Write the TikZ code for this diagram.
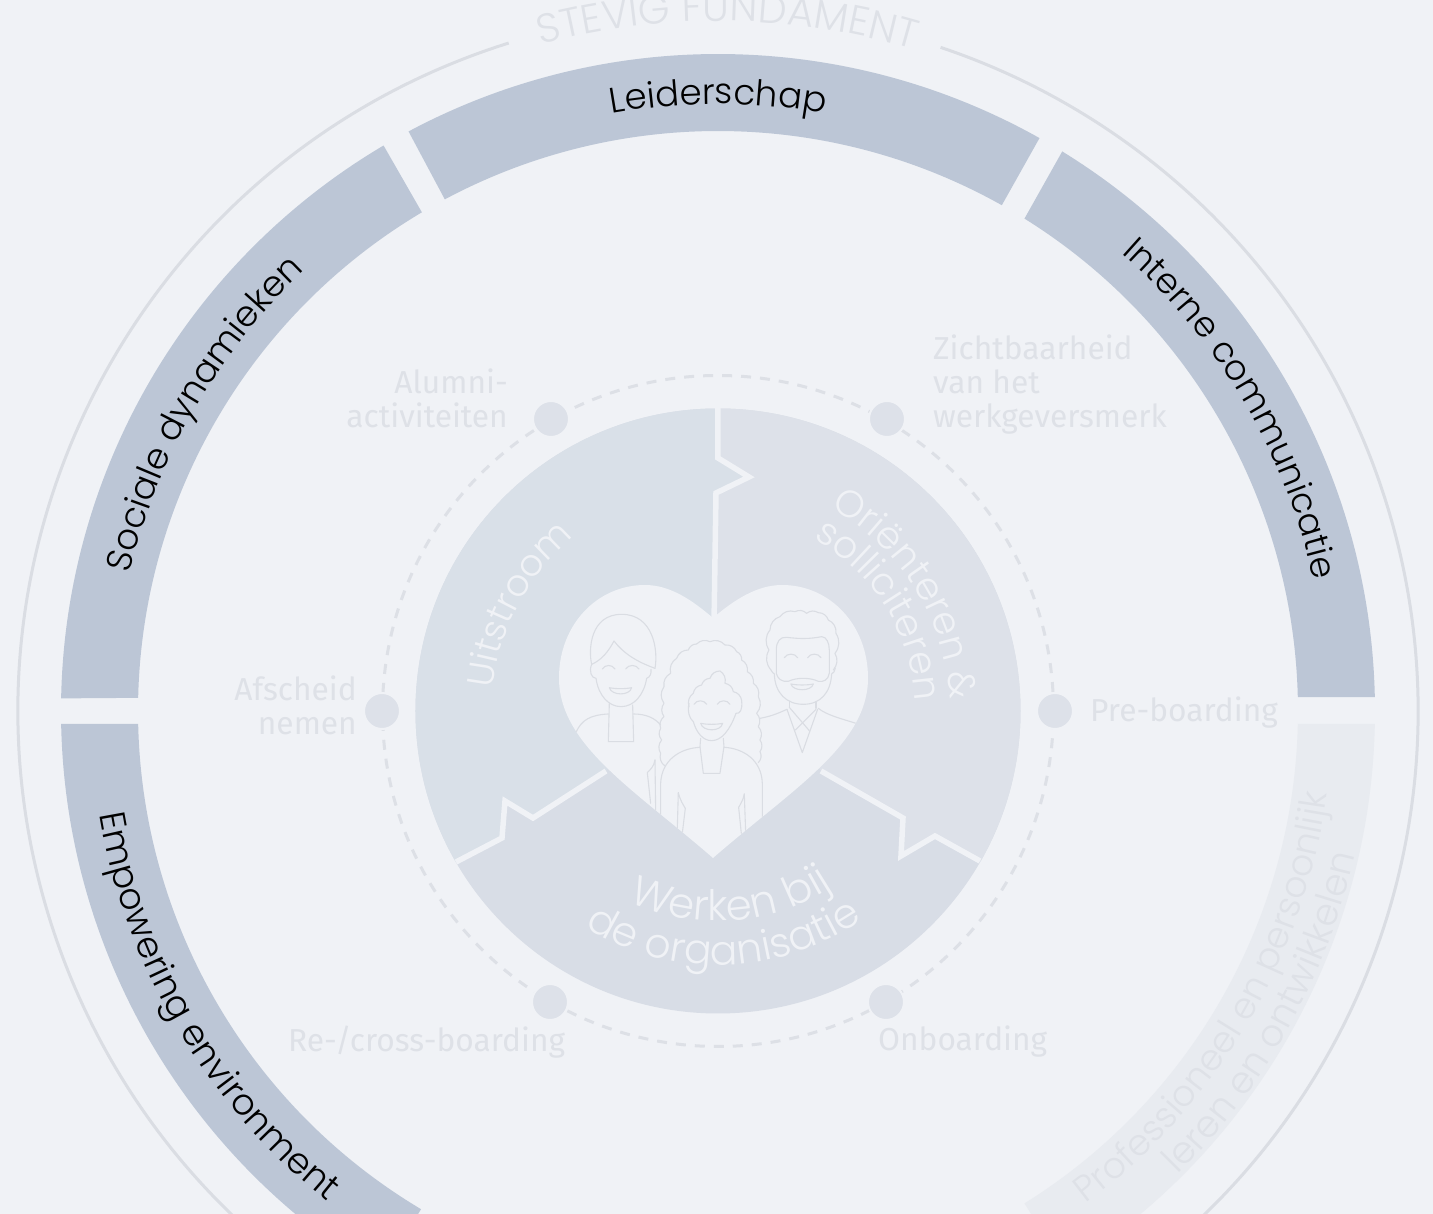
\documentclass[tikz,border=0pt]{standalone}
\usepackage{fontspec}
\setmainfont{Noto Sans}
\newfontfamily\gothic{Poppins Light}
\newfontfamily\lab{Fira Sans}
\usetikzlibrary{decorations.text}
\definecolor{bg}{HTML}{F0F2F6}
\definecolor{band}{HTML}{BCC6D6}
\definecolor{pale}{HTML}{E8EBF0}
\definecolor{ringc}{HTML}{DADDE3}
\definecolor{dashc}{HTML}{DDE0E6}
\definecolor{labc}{HTML}{DEE1E7}
\definecolor{secL}{HTML}{D9E0E8}
\definecolor{secR}{HTML}{DDE1E9}
\definecolor{secB}{HTML}{D8DDE6}
\definecolor{dotc}{HTML}{DDE1E9}
\tikzset{
  px/.style={x=1pt,y=-1pt,xshift=-718pt,yshift=711pt},
  smalllab/.style={text=labc,font=\lab\fontsize{31.7}{34.3}\selectfont,inner sep=0pt,align=left},
  dotn/.style={circle,fill=dotc,draw=bg,line width=2pt,minimum size=36pt,inner sep=0pt},
  sep/.style={draw=bg,line width=5.5pt,line join=miter},
  person/.style={draw=ringc,line width=1.1pt,line join=round,line cap=round},
  curved/.style={decorate,decoration={text along path,text align=center,text={#1}}},
  sd/.style={bend left=35},
}
\newcommand{\heartpath}{(713,618) .. controls (692,600) and (670,585) .. (645,585)
  .. controls (597,585) and (559,625) .. (559,678)
  .. controls (559,745) and (635,790) .. (713,858)
  .. controls (791,790) and (868,745) .. (868,678)
  .. controls (868,625) and (830,585) .. (782,585)
  .. controls (757,585) and (734,600) .. (713,618) -- cycle}
\begin{document}
\begin{tikzpicture}[x=1pt,y=1pt]
\useasboundingbox (-718,-503) rectangle (715,711);
\fill[bg] (-718,-503) rectangle (715,711);
\begin{scope}
\clip (-718,-503) rectangle (715,711);
% outer ring
\draw[ringc,line width=3pt] (107.4:700pt) arc[start angle=107.4,end angle=431.46,radius=700pt];
% bands
\fill[band] (118.1:657pt) arc[start angle=118.1,end angle=60.7,radius=657pt] -- (60.7:580pt) arc[start angle=60.7,end angle=118.1,radius=580pt] -- cycle;
\fill[band] (120.6:657pt) arc[start angle=120.6,end angle=178.9,radius=657pt] -- (178.7:580pt) arc[start angle=178.7,end angle=120.7,radius=580pt] -- cycle;
\fill[band] (58.4:657pt) arc[start angle=58.4,end angle=1.22,radius=657pt] -- (1.38:580pt) arc[start angle=1.38,end angle=58.1,radius=580pt] -- cycle;
\fill[band] (181.13:657pt) arc[start angle=181.13,end angle=239.2,radius=657pt] -- (239.2:580pt) arc[start angle=239.2,end angle=181.28,radius=580pt] -- cycle;
\fill[pale] (-1.13:657pt) arc[start angle=-1.13,end angle=-58.1,radius=657pt] -- (-58.1:580pt) arc[start angle=-58.1,end angle=-1.28,radius=580pt] -- cycle;
% band labels
\path[curved={|\gothic\fontsize{35.5}{40}\selectfont\color{black}|Leiderschap}] (120:607pt) arc[start angle=120,end angle=60,radius=607pt];
\path[curved={|\gothic\fontsize{35.5}{40}\selectfont\color{black}|Sociale dynamieken}] (180:604pt) arc[start angle=180,end angle=120,radius=604pt];
\path[curved={|\gothic\fontsize{35}{40}\selectfont\color{black}|Interne communicatie}] (60:610pt) arc[start angle=60,end angle=1,radius=610pt];
\path[curved={|\gothic\fontsize{36}{40}\selectfont\color{black}|Empowering environment}] (180:627pt) arc[start angle=180,end angle=241,radius=627pt];
\path[curved={|\gothic\fontsize{36}{40}\selectfont\color{labc}|Professioneel en persoonlijk}] (-60:615pt) arc[start angle=-60,end angle=-1,radius=615pt];
\path[curved={|\gothic\fontsize{37}{40}\selectfont\color{labc}|leren en ontwikkelen}] (-58:653pt) arc[start angle=-58,end angle=-0,radius=653pt];
\path[curved={|\gothic\fontsize{40.7}{44}\selectfont\color{labc}|STEVIG FUNDAMENT}] (119.2:690pt) arc[start angle=119.2,end angle=59.2,radius=690pt];
% dashed circle
\draw[dashc,line width=3pt,dash pattern=on 10pt off 9pt] (0,0) circle[radius=335.5pt];
% disc
\begin{scope}
\clip (0,0) circle[radius=302.5pt];
\fill[secB] (-330,-330) rectangle (330,330);
\begin{scope}[px]
\fill[secL] (718,408) -- (718,458) -- (749,477) -- (716,493) -- (714,620) -- (606,771) -- (533,818) -- (505,801) -- (502,838) -- (456,862) -- (380,900) -- (380,380) -- (718,380) -- cycle;
\fill[secR] (718,408) -- (718,458) -- (749,477) -- (716,493) -- (714,620) -- (821,771) -- (903,818) -- (901,856) -- (935,836) -- (980,861) -- (1050,900) -- (1050,380) -- (718,380) -- cycle;
\end{scope}
\end{scope}
\begin{scope}[px]
\draw[sep] (718,404) -- (718,458) -- (749,477) -- (716,493) -- (714,625);
\draw[sep] (606,771) -- (533,818) -- (505,801) -- (502,838) -- (456,862);
\draw[sep] (821,771) -- (903,818) -- (901,856) -- (935,836) -- (980,861);
\fill[bg] \heartpath;
\end{scope}
% people, in coordinates of a 3x crop, clipped to the heart
\begin{scope}
\begin{scope}[px]
\clip \heartpath;
\begin{scope}[x=0.3333pt,y=-0.3333pt,xshift=540pt,yshift=-570pt,person]
% left woman
\draw[person] (155,283) .. controls (145,240) and (150,133) .. (245,133) .. controls (340,133) and (355,240) .. (345,295);
\draw[person] (345,295) .. controls (290,275) and (250,250) .. (222,213) .. controls (205,245) and (185,270) .. (155,283);
\draw[person] (155,283) .. controls (146,305) and (155,325) .. (168,325) .. controls (175,375) and (205,410) .. (243,410) .. controls (282,410) and (312,375) .. (320,325) .. controls (330,322) and (335,310) .. (333,298);
\draw[person] (187,297) .. controls (195,283) and (217,283) .. (225,297);
\draw[person] (257,297) .. controls (265,283) and (289,283) .. (297,297);
\draw[person] (208,353) .. controls (225,357) and (258,357) .. (275,353) .. controls (270,378) and (215,378) .. (208,353);
\draw[person] (208,400) -- (205,515) -- (281,515) -- (278,405);
\draw[person] (205,432) .. controls (150,435) and (125,450) .. (108,487);
\draw[person] (280,432) .. controls (320,432) and (345,445) .. (362,465);
\draw[person] (345,570) .. controls (342,590) and (330,600) .. (322,608) -- (332,700);
\draw[person] (345,570) -- (347,722);
% centre woman
\draw[person] (375,588) to[sd] (362,550) to[sd] (365,510) to[sd] (362,475) to[sd] (372,440) to[sd] (372,400) to[sd] (372,350) to[sd] (392,310) to[sd] (410,265) to[sd] (445,240) to[sd] (470,222) to[sd] (510,215) to[sd] (555,225) to[sd] (590,245) to[sd] (605,270) to[sd] (622,305) to[sd] (640,340) to[sd] (655,380) to[sd] (650,430) to[sd] (655,470) to[sd] (660,510) to[sd] (660,545) to[sd] (655,578);
\draw[person] (447,410) to[sd] (460,370) to[sd] (485,345) to[sd] (510,325) to[sd] (540,303) to[sd] (555,340) to[sd] (580,365) to[sd] (605,392);
\draw[person] (447,400) .. controls (442,425) and (448,445) .. (460,455) .. controls (470,490) and (490,512) .. (515,512) .. controls (545,512) and (570,480) .. (588,430) .. controls (600,432) and (608,420) .. (605,392);
\draw[person] (462,403) .. controls (470,389) and (492,389) .. (500,403);
\draw[person] (532,403) .. controls (540,389) and (562,389) .. (570,403);
\draw[person] (482,460) .. controls (500,464) and (530,464) .. (548,460) .. controls (543,486) and (488,486) .. (482,460);
\draw[person] (482,505) -- (480,530) -- (490,610) -- (540,610) -- (552,530) -- (550,505);
\draw[person] (480,532) .. controls (420,535) and (365,570) .. (362,640) -- (362,735);
\draw[person] (552,532) .. controls (610,535) and (665,570) .. (667,640) -- (667,745);
\draw[person] (415,668) .. controls (420,690) and (430,705) .. (436,715) -- (427,790);
\draw[person] (415,668) -- (412,775);
\draw[person] (613,672) .. controls (610,690) and (600,705) .. (596,712) -- (604,790);
\draw[person] (613,672) -- (617,785);
% man
\draw[person] (693,300) to[sd] (687,240) to[sd] (690,180) to[sd] (720,140) to[sd] (765,125) to[sd] (800,130) to[sd] (835,128) to[sd] (865,150) to[sd] (888,190) to[sd] (885,250) to[sd] (880,300);
\draw[person] (709,310) -- (709,240) .. controls (709,215) and (720,200) .. (740,202) .. controls (780,207) and (810,207) .. (845,200) .. controls (860,200) and (868,220) .. (868,240) -- (868,310) .. controls (865,330) and (850,337) .. (835,334) .. controls (810,322) and (770,322) .. (745,334) .. controls (725,337) and (712,325) .. (709,310);
\draw[person] (693,300) .. controls (695,305) and (700,310) .. (703,312) .. controls (705,370) and (740,403) .. (790,403) .. controls (840,403) and (872,370) .. (875,312) .. controls (880,308) and (885,305) .. (886,295);
\draw[person] (733,263) .. controls (741,249) and (765,249) .. (773,263);
\draw[person] (803,263) .. controls (811,249) and (835,249) .. (843,263);
\draw[person] (753,342) .. controls (770,346) and (803,346) .. (820,342) .. controls (815,365) and (758,365) .. (753,342);
\draw[person] (748,395) -- (748,412);
\draw[person] (828,395) -- (828,415);
\draw[person] (741,418) -- (787,548) -- (833,418);
\draw[person] (748,412) -- (808,482);
\draw[person] (828,418) -- (766,480);
\draw[person] (741,418) .. controls (715,430) and (690,440) .. (660,445);
\draw[person] (835,415) .. controls (860,435) and (900,445) .. (948,460);
\end{scope}
\end{scope}
\end{scope}
% sector texts
\path[curved={|\gothic\fontsize{37}{44}\selectfont\color{bg}|Uitstroom}] (191.8:226pt) arc[start angle=191.8,end angle=111.8,radius=226pt];
\path[curved={|\gothic\fontsize{38}{44}\selectfont\color{bg}|Oriënteren {\&}}] (72:232pt) arc[start angle=72,end angle=-8,radius=232pt];
\path[curved={|\gothic\fontsize{38}{44}\selectfont\color{bg}|solliciteren}] (72:197pt) arc[start angle=72,end angle=-8,radius=197pt];
\path[curved={|\gothic\fontsize{42}{44}\selectfont\color{bg}|Werken bij}] (234:210pt) arc[start angle=234,end angle=314,radius=210pt];
\path[curved={|\gothic\fontsize{41}{44}\selectfont\color{bg}|de organisatie}] (231.5:254pt) arc[start angle=231.5,end angle=311.5,radius=254pt];
% dots and labels
\begin{scope}[px]
\node[dotn] (d1) at (551,419) {};
\node[dotn] (d2) at (887,419) {};
\node[dotn] (d3) at (1055,711) {};
\node[dotn] (d4) at (382,711) {};
\node[dotn] (d5) at (550,1002) {};
\node[dotn] (d6) at (886,1002) {};
\node[smalllab,align=right,anchor=east] (l1) at (508,398) {Alumni-\\activiteiten};
\node[smalllab,anchor=west] (l2) at (933,384.5) {Zichtbaarheid\\van het\\werkgeversmerk};
\node[smalllab,anchor=west] (l3) at (1090,712.5) {Pre-boarding};
\node[smalllab,align=right,anchor=east] (l4) at (357,705) {Afscheid\\nemen};
\node[smalllab,anchor=west] (l5) at (288,1042) {Re-/cross-boarding};
\node[smalllab,anchor=west] (l6) at (878,1042) {Onboarding};
\end{scope}
\end{scope}
\end{tikzpicture}
\end{document}
